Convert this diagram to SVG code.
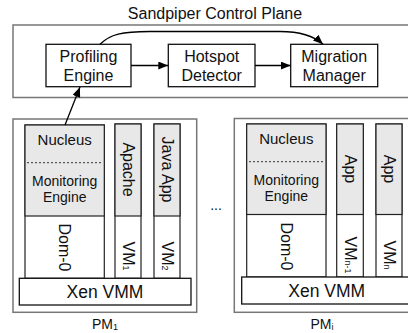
<svg xmlns="http://www.w3.org/2000/svg" width="408" height="333" viewBox="0 0 408 333">
<defs>
<style>
text{font-family:"Liberation Sans",Arial,sans-serif;fill:#111}
.outer{fill:#fff;stroke:#777;stroke-width:1.5}
.box{fill:#fff;stroke:#111;stroke-width:1.3}
.col{fill:#fff;stroke:#222;stroke-width:1.2}
.gray{fill:#e8e8e8;stroke:#222;stroke-width:1.2}
.dot{stroke:#333;stroke-width:1;stroke-dasharray:2,2}
.t16{font-size:16px;text-anchor:middle}
.t15{font-size:15px;text-anchor:middle}
.t14{font-size:14px;text-anchor:middle}
.rot{font-size:16px;text-anchor:middle;dominant-baseline:central}
.conn{fill:none;stroke:#000;stroke-width:1.3}
</style>
<marker id="ah" viewBox="0 0 10 8" refX="10" refY="4" markerWidth="10" markerHeight="8" markerUnits="userSpaceOnUse" orient="auto">
<path d="M0,0 L10,4 L0,8 Z" fill="#000"/>
</marker>
</defs>

<g id="control-plane">
<rect class="outer" x="13" y="25" width="400" height="72.5"/>
<text class="t16" x="215" y="19">Sandpiper Control Plane</text>
</g>

<g id="profiling-engine">
<rect class="box" x="46" y="44.3" width="85" height="42.4"/>
<text class="t16" x="88.5" y="61.5">Profiling</text>
<text class="t16" x="88.5" y="80.5">Engine</text>
</g>

<g id="hotspot-detector">
<rect class="box" x="168.3" y="44.3" width="86.7" height="42.4"/>
<text class="t16" x="211.7" y="61.5">Hotspot</text>
<text class="t16" x="211.7" y="80.5">Detector</text>
</g>

<g id="migration-manager">
<rect class="box" x="290.7" y="44.3" width="87" height="42.4"/>
<text class="t16" x="334.2" y="61.5">Migration</text>
<text class="t16" x="334.2" y="80.5">Manager</text>
</g>

<g id="pm1">
<rect class="outer" x="13" y="119" width="183.7" height="193.3"/>
<text x="105" y="329" style="font-size:14px;text-anchor:middle">PM<tspan font-size="9" dy="1">1</tspan></text>
</g>

<g id="pm1-dom0">
<rect class="col" x="25" y="125" width="79.3" height="153.3"/>
<rect class="gray" x="25" y="125" width="79.3" height="91"/>
<line class="dot" x1="27" y1="162.7" x2="101" y2="162.7"/>
<text class="t15" x="64.7" y="145">Nucleus</text>
<text class="t14" x="64.7" y="186">Monitoring</text>
<text class="t14" x="64.7" y="202">Engine</text>
<text class="rot" transform="translate(64.7,247.5) rotate(90)">Dom-0</text>
</g>

<g id="pm1-vm1">
<rect class="col" x="115" y="124" width="26" height="154.3"/>
<rect class="gray" x="115" y="124" width="26" height="92"/>
<text class="rot" transform="translate(128,169.5) rotate(90)">Apache</text>
<text class="rot" transform="translate(128,256) rotate(90)">VM<tspan font-size="9" dy="2">1</tspan></text>
</g>

<g id="pm1-vm2">
<rect class="col" x="154" y="124" width="26" height="154.3"/>
<rect class="gray" x="154" y="124" width="26" height="92"/>
<text class="rot" transform="translate(167,169.5) rotate(90)">Java App</text>
<text class="rot" transform="translate(167,256) rotate(90)">VM<tspan font-size="9" dy="2">2</tspan></text>
</g>

<g id="pm1-xen">
<rect class="box" x="19.3" y="278.3" width="171.7" height="26.7"/>
<text x="105" y="298" style="font-size:17.5px;text-anchor:middle">Xen VMM</text>
</g>

<g id="ellipsis">
<text x="216" y="210" style="font-size:14px;text-anchor:middle">...</text>
</g>

<g id="pmi">
<rect class="outer" x="234.3" y="118.5" width="180" height="193.8"/>
<text x="322" y="329" style="font-size:14px;text-anchor:middle">PM<tspan font-size="9" dy="1">i</tspan></text>
</g>

<g id="pmi-dom0">
<rect class="col" x="246.7" y="124" width="79.3" height="153"/>
<rect class="gray" x="246.7" y="124" width="79.3" height="90.5"/>
<line class="dot" x1="249" y1="161.7" x2="323" y2="161.7"/>
<text class="t15" x="286.3" y="144">Nucleus</text>
<text class="t14" x="286.3" y="185">Monitoring</text>
<text class="t14" x="286.3" y="201">Engine</text>
<text class="rot" transform="translate(286.3,246.5) rotate(90)">Dom-0</text>
</g>

<g id="pmi-vmn1">
<rect class="col" x="336.7" y="124" width="26.6" height="153"/>
<rect class="gray" x="336.7" y="124" width="26.6" height="90.5"/>
<text class="rot" transform="translate(350,169) rotate(90)">App</text>
<text class="rot" transform="translate(350,255) rotate(90)">VM<tspan font-size="9" dy="2">n-1</tspan></text>
</g>

<g id="pmi-vmn">
<rect class="col" x="376" y="124" width="26" height="153"/>
<rect class="gray" x="376" y="124" width="26" height="90.5"/>
<text class="rot" transform="translate(389,169) rotate(90)">App</text>
<text class="rot" transform="translate(389,255) rotate(90)">VM<tspan font-size="9" dy="2">n</tspan></text>
</g>

<g id="pmi-xen">
<rect class="box" x="241.7" y="277" width="175" height="27"/>
<text x="326.7" y="297" style="font-size:17.5px;text-anchor:middle">Xen VMM</text>
</g>

<g id="connectors">
<line class="conn" x1="131" y1="65.5" x2="168.3" y2="65.5" marker-end="url(#ah)"/>
<line class="conn" x1="255" y1="65.5" x2="290.7" y2="65.5" marker-end="url(#ah)"/>
<path class="conn" d="M100,44.3 C110,34 122,31.5 150,31.5 L280,31.5 C302,31.5 314,36 323,44.3" marker-end="url(#ah)"/>
<line class="conn" x1="65" y1="125" x2="80" y2="87" marker-end="url(#ah)"/>
</g>
</svg>
